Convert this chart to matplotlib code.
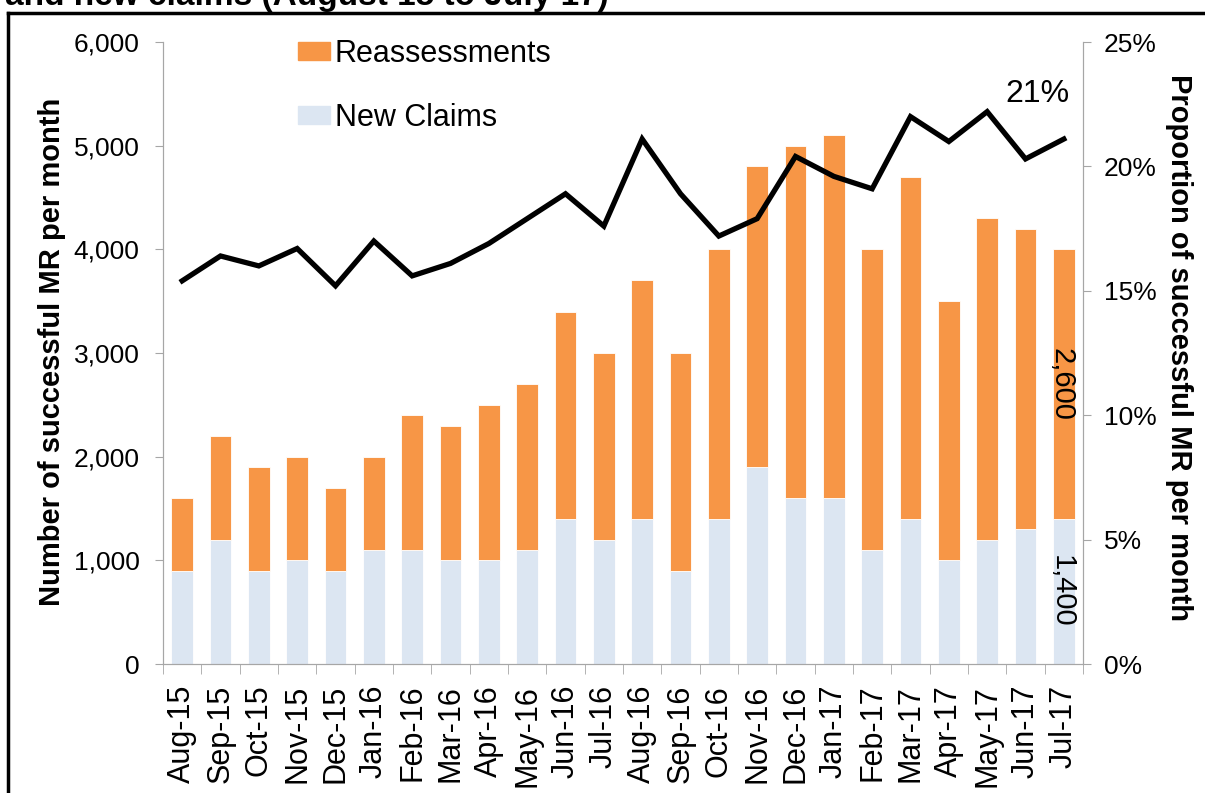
import matplotlib.pyplot as plt
from matplotlib.lines import Line2D
from matplotlib.patches import Patch
import numpy as np

months = ['Aug-15', 'Sep-15', 'Oct-15', 'Nov-15', 'Dec-15', 'Jan-16', 'Feb-16',
          'Mar-16', 'Apr-16', 'May-16', 'Jun-16', 'Jul-16', 'Aug-16', 'Sep-16',
          'Oct-16', 'Nov-16', 'Dec-16', 'Jan-17', 'Feb-17', 'Mar-17', 'Apr-17',
          'May-17', 'Jun-17', 'Jul-17']
new_claims = [900, 1200, 900, 1000, 900, 1100, 1100, 1000, 1000, 1100, 1400, 1200,
              1400, 900, 1400, 1900, 1600, 1600, 1100, 1400, 1000, 1200, 1300, 1400]
totals = [1600, 2200, 1900, 2000, 1700, 2000, 2400, 2300, 2500, 2700, 3400, 3000,
          3700, 3000, 4000, 4800, 5000, 5100, 4000, 4700, 3500, 4300, 4200, 4000]
proportion = [15.4, 16.4, 16.0, 16.7, 15.2, 17.0, 15.6, 16.1, 16.9, 17.9, 18.9, 17.6,
              21.1, 18.9, 17.2, 17.9, 20.4, 19.6, 19.1, 22.0, 21.0, 22.2, 20.3, 21.1]

reassess = np.array(totals) - np.array(new_claims)

plt.rcParams['font.family'] = ['Liberation Sans', 'DejaVu Sans']
orange = '#F79646'
blue = '#DCE6F2'
grey = '#A6A6A6'

W, H = 1205, 793
fig = plt.figure(figsize=(W / 100, H / 100), dpi=100)
ax = fig.add_axes([163 / W, 1 - 664 / H, (1083 - 163) / W, (664 - 42) / H])
x = np.arange(len(months))

ax.bar(x, new_claims, width=0.57, color=blue, edgecolor='white', linewidth=0.6)
ax.bar(x, reassess, bottom=new_claims, width=0.57, color=orange,
       edgecolor='white', linewidth=0.6)

ax.set_xlim(-0.5, len(months) - 0.5)
ax.set_ylim(0, 6000)
ax.set_yticks(range(0, 6001, 1000))
ax.set_yticklabels(['0', '1,000', '2,000', '3,000', '4,000', '5,000', '6,000'])
ax.set_xticks(x)
ax.set_xticklabels(months, rotation=90)
ax.set_xticks(np.arange(-0.5, len(months)), minor=True)
ax.tick_params(axis='x', which='major', length=0, labelsize=22, pad=15)
ax.tick_params(axis='x', which='minor', length=7, color=grey)
ax.tick_params(axis='y', length=6, color=grey, labelsize=19, pad=11)
ax.spines['top'].set_visible(False)
for s in ['left', 'bottom', 'right']:
    ax.spines[s].set_color(grey)
ax.set_ylabel('Number of successful MR per month', fontsize=21, fontweight='bold',
              va='center')
ax.yaxis.set_label_coords(52 / W, 1 - 352 / H, transform=fig.transFigure)

ax2 = ax.twinx()
ax2.plot(x, proportion, color='black', linewidth=3.8, solid_joinstyle='miter')
ax2.set_ylim(0, 25)
ax2.set_yticks(range(0, 26, 5))
ax2.set_yticklabels([f'{v}%' for v in range(0, 26, 5)])
ax2.tick_params(axis='y', length=6, color=grey, labelsize=19, pad=9)
ax2.spines['top'].set_visible(False)
for s in ['left', 'bottom', 'right']:
    ax2.spines[s].set_color(grey)
ax2.set_ylabel('Proportion of successful MR per month', fontsize=21,
               fontweight='bold', rotation=-90, va='center')
ax2.yaxis.set_label_coords(1179 / W, 1 - 348 / H, transform=fig.transFigure)

ax2.text(x[-1] - 0.68, 22.6, f'{proportion[-1]:.0f}%', fontsize=23,
         ha='center', va='baseline')
ax.text(x[-1] - 0.05, new_claims[-1] + reassess[-1] / 2, f'{reassess[-1]:,}',
        rotation=-90, fontsize=21, ha='center', va='center')
ax.text(x[-1] - 0.05, new_claims[-1] / 2, f'{new_claims[-1]:,}',
        rotation=-90, fontsize=21, ha='center', va='center')

handles = [Patch(color=orange), Patch(color=blue)]
ax.legend(handles, ['Reassessments', 'New Claims'], loc='upper left',
          bbox_to_anchor=(298 / W, 1 - 39 / H), bbox_transform=fig.transFigure,
          frameon=False, fontsize=22, borderpad=0, borderaxespad=0,
          handlelength=1.05, handleheight=0.52, handletextpad=0.16,
          labelspacing=1.1)

fig.text(5 / W, 1 - 5 / H, 'and new claims (August 15 to July 17)', fontsize=24,
         fontweight='bold', ha='left', va='baseline')
fig.add_artist(Line2D([8 / W, 1], [1 - 13 / H, 1 - 13 / H],
                      color='black', linewidth=2.5))
fig.add_artist(Line2D([8 / W, 8 / W], [0, 1 - 13 / H],
                      color='black', linewidth=2.5))

fig.savefig('out.png', dpi=100)
